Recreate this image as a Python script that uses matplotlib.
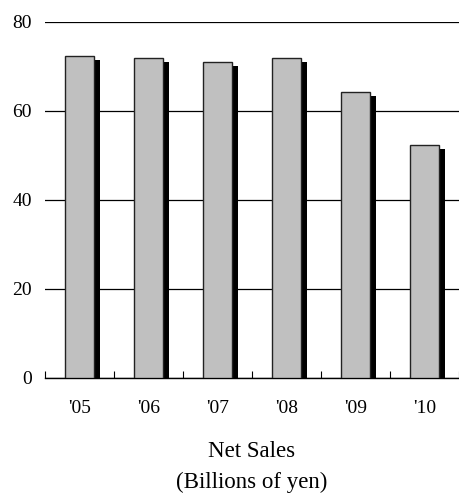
import matplotlib
matplotlib.use("Agg")
import matplotlib.pyplot as plt
import matplotlib.patheffects as pe

years = ["'05", "'06", "'07", "'08", "'09", "'10"]
net_sales = [72.4, 72.0, 71.1, 72.0, 64.3, 52.4]

plt.rcParams["font.family"] = ["Liberation Serif", "DejaVu Serif"]

fig = plt.figure(figsize=(4.59, 4.95), dpi=100)
ax = fig.add_axes([0.098, 0.2364, 0.902, 0.7192])

x = list(range(len(years)))
bars = ax.bar(x, net_sales, width=0.43, color="#c0c0c0", edgecolor="#222222",
              linewidth=1.0, zorder=3)
for b in bars:
    b.set_path_effects([pe.SimplePatchShadow(offset=(4.0, -2.9), shadow_rgbFace="black",
                                             alpha=1.0, rho=1.0),
                        pe.Normal()])

ax.set_xlim(-0.5, len(years) - 0.5)
ax.set_ylim(0, 80)
ax.set_yticks([0, 20, 40, 60, 80])
ax.yaxis.grid(True, color="black", linewidth=0.9, zorder=0)
ax.set_axisbelow(True)

for s in ["top", "right", "left"]:
    ax.spines[s].set_visible(False)
ax.spines["bottom"].set_linewidth(1.0)

ax.tick_params(axis="y", length=0, labelsize=14, pad=9.5)
ax.set_xticks(x)
ax.set_xticklabels(years)
ax.tick_params(axis="x", length=0, labelsize=14, pad=16)
ax.set_xticks([i - 0.5 for i in range(len(years) + 1)], minor=True)
ax.tick_params(axis="x", which="minor", direction="in", length=5, width=0.8)

fig.text(0.549, 0.087, "Net Sales", ha="center", va="center", fontsize=16.5)
fig.text(0.549, 0.026, "(Billions of yen)", ha="center", va="center", fontsize=16.5)

fig.savefig("out.png", dpi=100)
